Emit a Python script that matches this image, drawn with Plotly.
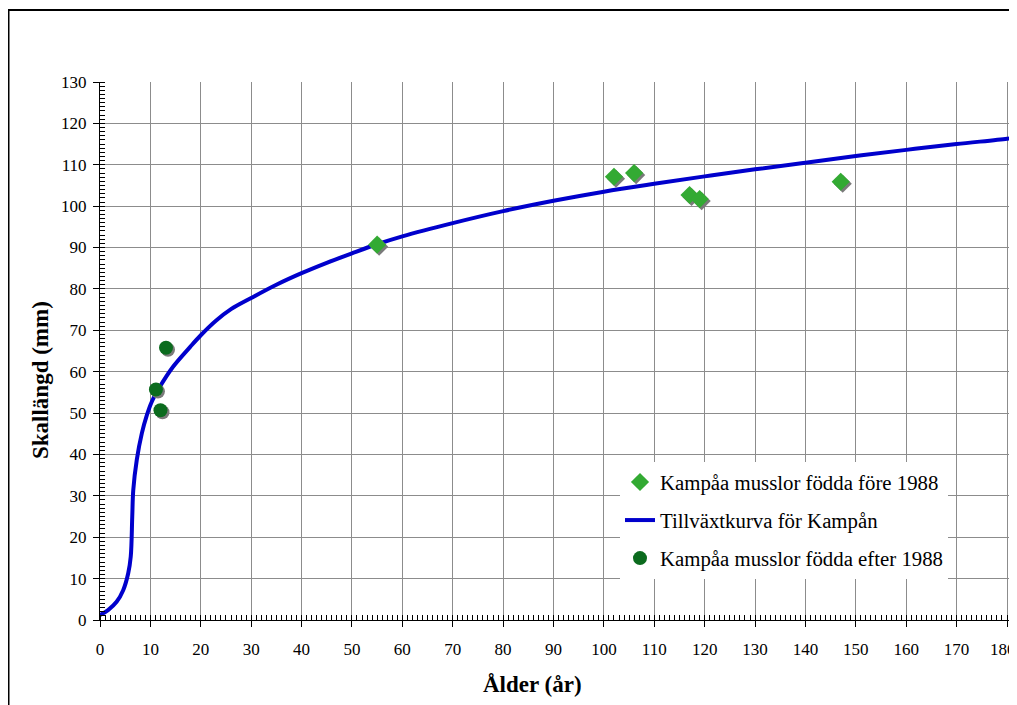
import plotly.graph_objects as go

# ---- data ----
curve_age = [0, 1.6, 3.3, 4.6, 5.6, 6.1, 6.4, 6.6, 7.3, 8.3, 9.3, 10.3, 11.9, 14.5, 17.9, 20, 23, 26, 30, 35,
             40, 45, 50, 55, 60, 70, 80, 90, 100, 110, 120, 130, 140, 150, 160, 170, 180, 181.6]
curve_len = [1.2, 2.4, 4.4, 7.2, 11.3, 15.3, 25, 31.4, 38.7, 45.1, 49.5, 52.8, 56.4, 61.2, 66, 68.8, 72.3, 75.1, 77.8, 81,
             83.8, 86.3, 88.6, 90.8, 92.7, 95.9, 98.8, 101.3, 103.5, 105.4, 107.2, 108.9, 110.5, 112.1, 113.6, 115.0, 116.3, 116.6]

before_age = [55, 102, 106, 117, 119, 147]
before_len = [90.7, 107.1, 108.0, 102.7, 101.7, 105.9]

after_age = [11.1, 12.0, 13.1]
after_len = [55.7, 50.7, 65.8]

x_ticks = list(range(0, 181, 10))
x_labels = [str(v) for v in x_ticks]
y_ticks = list(range(0, 131, 10))

# ---- layout geometry (page pixels; the page body has an 8px margin) ----
OFF = 8
W, H = 1017 - OFF, 705 - OFF
PLOT_L, PLOT_R, PLOT_T, PLOT_B = 100, 1015, 82, 620   # page coords
ML = PLOT_L - OFF
MT = PLOT_T - OFF
MR = (W + OFF) - PLOT_R
MB = (H + OFF) - PLOT_B
PW = PLOT_R - PLOT_L        # 915
PH = PLOT_B - PLOT_T        # 538
AX_W = 907                  # pixel width of 0..180
XMAX = 180
YMAX = 130
XR = XMAX * PW / AX_W
px_per_x = AX_W / XMAX
px_per_y = PH / YMAX
SH = 2                      # shadow offset in px


def px(p):
    return (p - PLOT_L) / PW


def py(p):
    return (PLOT_B - p) / PH


FONT = "Liberation Serif"

fig = go.Figure()

# growth curve
fig.add_trace(go.Scatter(
    x=curve_age, y=curve_len, mode="lines", name="Tillväxtkurva för Kampån",
    line=dict(color="#0000CC", width=4, shape="spline", smoothing=1.0),
    legendrank=2, legendgroup="b"))

# shadows (overlay axes shifted by a couple of pixels)
fig.add_trace(go.Scatter(
    x=before_age, y=before_len, mode="markers", showlegend=False, hoverinfo="skip",
    marker=dict(symbol="diamond", size=14, color="#7a7a7a"), xaxis="x2", yaxis="y2"))
fig.add_trace(go.Scatter(
    x=after_age, y=after_len, mode="markers", showlegend=False, hoverinfo="skip",
    marker=dict(symbol="circle", size=14, color="#7a7a7a"), xaxis="x2", yaxis="y2"))

# markers
fig.add_trace(go.Scatter(
    x=before_age, y=before_len, mode="markers", name="Kampåa musslor födda före 1988",
    marker=dict(symbol="diamond", size=14, color="#33AA33"),
    xaxis="x3", yaxis="y3", legendrank=1, legendgroup="a"))
fig.add_trace(go.Scatter(
    x=after_age, y=after_len, mode="markers", name="Kampåa musslor födda efter 1988",
    marker=dict(symbol="circle", size=14, color="#0B6B1E"),
    xaxis="x3", yaxis="y3", legendrank=3, legendgroup="c"))

axis_common = dict(showgrid=True, gridcolor="#8c8c8c", gridwidth=1, zeroline=False,
                   showline=True, linecolor="black", linewidth=1,
                   ticks="outside", ticklen=6, tickcolor="black",
                   tickfont=dict(family=FONT, size=17),
                   minor=dict(dtick=1, ticks="inside", ticklen=5, tickcolor="black", showgrid=False))

# the last x label sits at the right page edge; draw it right-shifted so it stays on the page
shown_labels = x_labels[:-1] + [""]

fig.update_layout(
    width=W, height=H,
    margin=dict(l=ML, r=MR, t=MT, b=MB, pad=0),
    paper_bgcolor="white", plot_bgcolor="white",
    font=dict(family=FONT, size=17, color="black"),
    showlegend=True,
    xaxis=dict(range=[0, XR], tickvals=x_ticks, ticktext=shown_labels, ticklabelstandoff=8, **axis_common),
    yaxis=dict(range=[0, YMAX], tickvals=y_ticks, ticklabelstandoff=3, **axis_common),
    xaxis2=dict(range=[-SH / px_per_x, XR - SH / px_per_x], overlaying="x", anchor="y2", visible=False),
    yaxis2=dict(range=[SH / px_per_y, YMAX + SH / px_per_y], overlaying="y", anchor="x2", visible=False),
    xaxis3=dict(range=[0, XR], overlaying="x", anchor="y3", visible=False),
    yaxis3=dict(range=[0, YMAX], overlaying="y", anchor="x3", visible=False),
    legend=dict(x=px(620), y=py(462), xanchor="left", yanchor="top",
                bgcolor="white", borderwidth=0, font=dict(family=FONT, size=20.8),
                tracegroupgap=8, traceorder="grouped"),
    annotations=[
        dict(text=x_labels[-1], xref="x", yref="paper", x=x_ticks[-1], y=py(649),
             xanchor="center", yanchor="middle", xshift=-4, showarrow=False,
             font=dict(family=FONT, size=17)),
        dict(text="<b>Ålder (år)</b>", xref="paper", yref="paper",
             x=px(532), y=py(685), xanchor="center", yanchor="middle",
             showarrow=False, font=dict(family=FONT, size=23)),
        dict(text="<b>Skallängd (mm)</b>", xref="paper", yref="paper", textangle=-90,
             x=px(40), y=py(380), xanchor="center", yanchor="middle",
             showarrow=False, font=dict(family=FONT, size=23)),
    ],
    shapes=[dict(type="rect", xref="paper", yref="paper",
                 x0=px(8.5), x1=1.1, y0=-0.4, y1=py(10),
                 line=dict(color="black", width=2), fillcolor="rgba(0,0,0,0)", layer="above")],
)

fig.write_html("out.html")
